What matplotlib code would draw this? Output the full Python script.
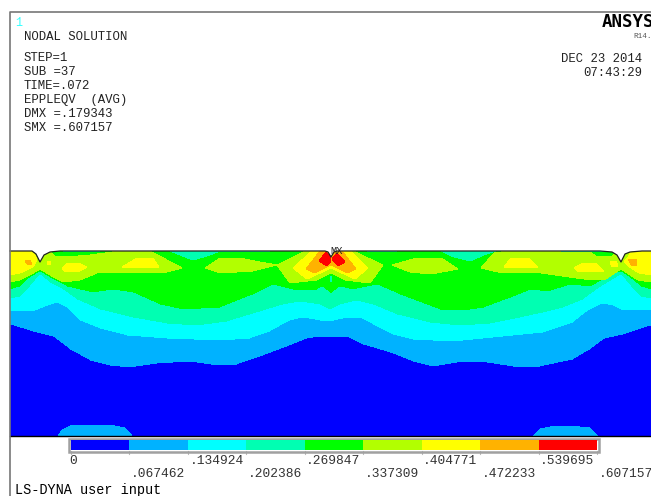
import matplotlib
matplotlib.use('Agg')
import matplotlib.pyplot as plt
from matplotlib.patches import Polygon, Rectangle

# contour colours, low to high
colors = ['#0000FF', '#00B2FF', '#00FFFF', '#00FFB2', '#00FF00', '#B2FF00', '#FFFF00', '#FFB200', '#FF0000']
levels = [0, .067462, .134924, .202386, .269847, .337309, .404771, .472233, .539695, .607157]
level_labels = ['0', '.067462', '.134924', '.202386', '.269847', '.337309', '.404771', '.472233', '.539695', '.607157']

# everything below, in its own x/y units
surface_x = [10, 32, 36, 40, 44, 50, 60, 325, 328, 331, 334, 337, 600, 612, 617, 621, 625, 630, 642, 651]
surface_y = [251, 251, 254, 262, 255, 252, 251, 251, 252, 257, 252, 251, 251, 252, 255, 262, 254, 252, 251, 251]

blue_x = [10, 33, 53, 70, 90, 110, 130, 157, 190, 217, 237, 263, 287, 307, 320, 347, 363, 390, 413, 433, 463, 487, 513, 540, 573, 590, 605, 623, 651]
blue_y = [325, 332, 337, 350, 361, 366, 368, 364, 362, 366, 365, 356, 347, 339, 337, 337, 345, 353, 362, 367, 362, 363, 367, 367, 360, 350, 339, 335, 326]

azure_x = [10, 33, 43, 57, 67, 80, 100, 127, 167, 220, 250, 270, 290, 303, 320, 330, 343, 360, 373, 393, 413, 433, 463, 503, 543, 573, 587, 602, 613, 623, 651]
azure_y = [311, 312, 308, 303, 308, 321, 329, 336, 339, 341, 339, 332, 321, 318, 321, 322, 319, 318, 325, 335, 340, 341, 341, 337, 333, 323, 312, 304, 306, 311, 310]

cyan_x = [10, 20, 30, 40, 50, 63, 77, 100, 133, 167, 197, 227, 260, 283, 300, 320, 330, 340, 357, 373, 397, 430, 460, 490, 520, 543, 563, 583, 601, 621, 631, 641, 651]
cyan_y = [299, 297, 287, 275, 283, 290, 300, 310, 318, 324, 326, 322, 312, 305, 302, 305, 310, 305, 301, 305, 315, 323, 326, 324, 318, 313, 308, 300, 287, 275, 287, 297, 299]

spring_x = [10, 20, 30, 40, 50, 67, 93, 113, 133, 160, 183, 220, 253, 273, 293, 317, 322, 331, 340, 353, 377, 400, 440, 464, 484, 511, 531, 548, 571, 591, 611, 621, 631, 641, 651]
spring_y = [290, 287, 278, 272, 278, 287, 293, 290, 293, 305, 310, 308, 295, 285, 290, 290, 287, 294, 287, 290, 285, 295, 310, 311, 308, 298, 290, 292, 285, 287, 275, 272, 279, 287, 290]

lime_left_x = [10, 50, 55, 67, 90, 120, 150, 167, 182, 167, 133, 97, 80, 63, 50, 40, 30, 20, 10]
lime_left_y = [251, 251, 256, 257, 255, 251, 251, 260, 268, 272, 273, 273, 280, 282, 275, 269, 275, 280, 282]
lime_a_x = [205, 220, 240, 260, 277, 253, 220]
lime_a_y = [268, 258, 258, 262, 265, 271, 273]
lime_mid_x = [305, 353, 383, 370, 345, 331, 317, 290, 277]
lime_mid_y = [251, 251, 265, 283, 280, 273, 280, 283, 265]
lime_b_x = [392, 417, 441, 458, 431, 410]
lime_b_y = [265, 258, 258, 269, 274, 272]
lime_right_x = [481, 494, 508, 541, 590, 596, 611, 616, 621, 627, 651, 651, 638, 621, 604, 584, 541, 498]
lime_right_y = [268, 253, 251, 251, 252, 256, 257, 252, 260, 251, 251, 282, 280, 269, 280, 279, 273, 272]

yellow_patches = [
    ([10, 33, 37, 33, 20, 10], [251, 251, 260, 267, 273, 275]),
    ([47, 50, 51, 48], [261, 261, 265, 265]),
    ([62, 68, 78, 87, 78, 65], [268, 263, 263, 267, 272, 272]),
    ([122, 137, 153, 159, 140], [267, 258, 258, 267, 268]),
    ([293, 312, 350, 368, 355, 331, 307], [268, 251, 251, 268, 279, 268, 279]),
    ([504, 511, 529, 538, 521], [267, 258, 258, 267, 268]),
    ([574, 583, 596, 604, 591, 578], [268, 263, 263, 272, 272, 272]),
    ([610, 616, 618, 612], [262, 261, 266, 267]),
    ([624, 628, 631, 644, 651, 651, 639, 631], [262, 257, 252, 251, 251, 275, 273, 268]),
]
orange_patches = [
    ([25, 30, 32, 28], [261, 260, 264, 265]),
    ([306, 320, 342, 356, 347, 331, 315], [269, 251, 251, 269, 273, 265, 273]),
    ([628, 637, 636, 632], [259, 259, 266, 266]),
]
red_patches = [
    ([319, 326, 331, 331, 327], [261, 252, 257, 261, 266]),
    ([332, 337, 340, 345, 338, 332], [258, 253, 256, 262, 266, 260]),
]
spring_patches = [
    ([63, 100, 100, 63], [251, 251, 252, 252]),
    ([170, 180, 193, 207, 220], [251, 255, 260, 256, 251]),
    ([220, 270, 270, 220], [251, 251, 252, 252]),
    ([367, 397, 397, 367], [251, 251, 252, 252]),
    ([441, 454, 470, 484, 496], [251, 257, 261, 255, 251]),
    ([561, 608, 608, 561], [251, 251, 252, 252]),
    ([330, 332, 331], [276, 276, 282]),
]
island_left_x = [58, 62, 70, 85, 110, 125, 132]
island_left_y = [436, 430, 426, 425, 425, 428, 436]
island_right_x = [533, 540, 555, 570, 590, 598]
island_right_y = [436, 429, 426, 426, 428, 436]

header_lines = ['STEP=1', 'SUB =37', 'TIME=.072', 'EPPLEQV  (AVG)', 'DMX =.179343', 'SMX =.607157']

fig = plt.figure(figsize=(6.51, 4.96), dpi=100)
ax = fig.add_axes([0, 0, 1, 1])
ax.set_xlim(0, 651)
ax.set_ylim(496, 0)
ax.axis('off')

# body outline, base colour is the green band
outline = list(zip(surface_x, surface_y)) + [(651, 436), (10, 436)]
body = Polygon(outline, closed=True, fc=colors[4], ec='none', zorder=1)
ax.add_patch(body)


def band(xs, ys, col, z=2):
    p = ax.fill(xs, ys, color=col, lw=0, zorder=z)[0]
    p.set_clip_path(body)
    p.set_antialiased(False)


band(spring_x + [651, 10], spring_y + [436, 436], colors[3])
band(cyan_x + [651, 10], cyan_y + [436, 436], colors[2])
band(azure_x + [651, 10], azure_y + [436, 436], colors[1])
band(blue_x + [651, 10], blue_y + [436, 436], colors[0])
band(island_left_x, island_left_y, colors[1], 3)
band(island_right_x, island_right_y, colors[1], 3)

band(lime_left_x, lime_left_y, colors[5], 3)
band(lime_a_x, lime_a_y, colors[5], 3)
band(lime_mid_x, lime_mid_y, colors[5], 3)
band(lime_b_x, lime_b_y, colors[5], 3)
band(lime_right_x, lime_right_y, colors[5], 3)
for xs, ys in spring_patches:
    band(xs, ys, colors[3], 3)
for xs, ys in yellow_patches:
    band(xs, ys, colors[6], 4)
for xs, ys in orange_patches:
    band(xs, ys, colors[7], 5)
for xs, ys in red_patches:
    band(xs, ys, colors[8], 6)

ax.plot(surface_x, surface_y, color='#222222', lw=0.9, zorder=8)
ax.plot([10, 651], [436, 436], color='black', lw=1, zorder=8)
# frame
ax.plot([10, 10, 651], [496, 12, 12], color='#777777', lw=1.2, zorder=9)

# legend bar
bar_left, bar_right = 71, 597
vmax = levels[-1]
def bar_pos(v):
    return bar_left + v / vmax * (bar_right - bar_left)

ax.add_patch(Rectangle((69, 438.5), 530, 13, fc='none', ec='#a0a0a0', lw=1.8, zorder=3))
for i, col in enumerate(colors):
    x0, x1 = bar_pos(levels[i]), bar_pos(levels[i + 1])
    ax.add_patch(Rectangle((x0, 440), x1 - x0, 10, fc=col, ec='none', zorder=4))
    ax.plot([x0, x0], [451, 453.5], color='#bbbbbb', lw=0.8)
ax.plot([bar_right, bar_right], [451, 453.5], color='#bbbbbb', lw=0.8)

mono = 'Liberation Mono'
for i, lab in enumerate(level_labels):
    ax.text(bar_pos(levels[i]) + (-2 if i == 0 else 1.5), 474 if i % 2 else 461, lab, family=mono, fontsize=9.3,
            color='#333333', va='center', ha='left')

ax.text(15, 23, '1', family=mono, fontsize=8.5, color='#33ffff', va='center')
ax.text(24, 37, 'NODAL SOLUTION', family=mono, fontsize=8.9, color='#222222', va='center')
for k, line in enumerate(header_lines):
    ax.text(24, 58 + k * 14, line, family=mono, fontsize=8.9, color='#222222', va='center')
ax.text(642, 59, 'DEC 23 2014', family=mono, fontsize=8.8, color='#222222', va='center', ha='right')
ax.text(642, 73, '07:43:29', family=mono, fontsize=8.8, color='#222222', va='center', ha='right')
ax.text(602, 22, 'ANSYS', family='DejaVu Sans Mono', fontweight='bold', fontsize=12.5, color='black', va='center')
ax.text(633, 37, 'R14.', family=mono, fontsize=5.5, color='#555555', va='center')
ax.text(337, 251, 'MX', family=mono, fontsize=7.5, color='#222222', va='center', ha='center', zorder=10)
ax.text(15, 490, 'LS-DYNA user input', family=mono, fontsize=9.75, color='black', va='center')

fig.savefig('out.png', dpi=100)
